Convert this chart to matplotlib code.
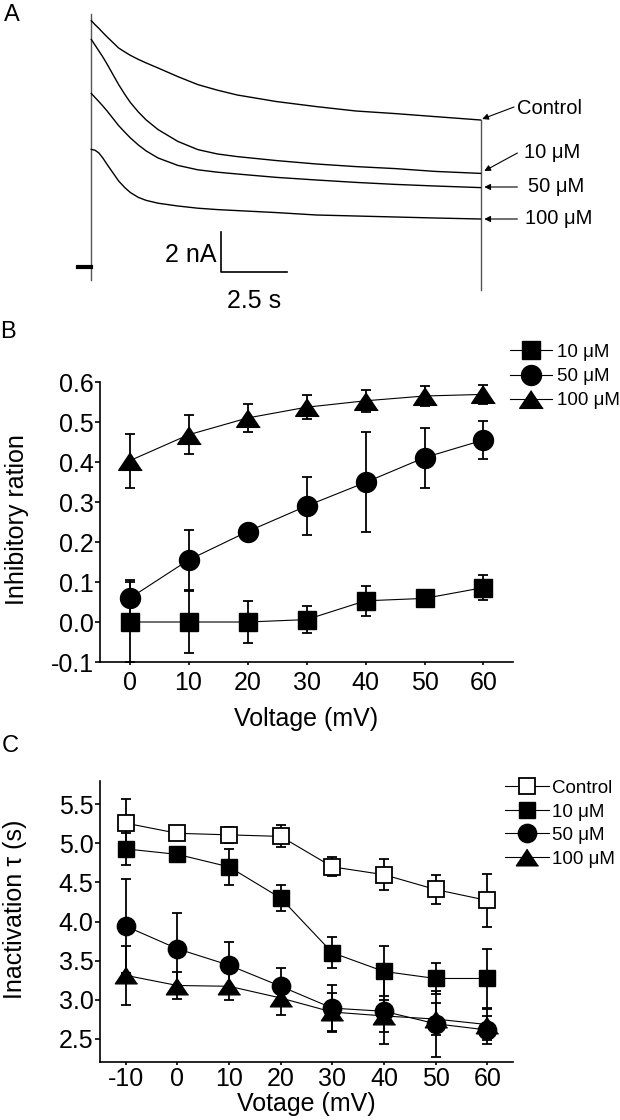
import numpy as np
import matplotlib
matplotlib.use('Agg')
import matplotlib.pyplot as plt

plt.rcParams['font.family'] = ['Liberation Sans', 'DejaVu Sans']
plt.rcParams['axes.unicode_minus'] = False

# ---- panel A: current traces (time in s, current in nA)
t_trace = [0, 0.14, 0.29, 0.44, 0.59, 1.04, 1.29, 1.49, 1.79, 2.09, 2.54,
           3.29, 4.05, 4.8, 5.55, 7.05, 8.56, 10.06, 11.56, 13.07, 14.8]
i_ctrl = [12.32, 12.12, 11.93, 11.72, 11.52, 10.95, 10.74, 10.58, 10.38,
          10.2, 9.95, 9.52, 9.12, 8.84, 8.6, 8.27, 8.02, 7.8, 7.67, 7.52, 7.35]
i_10 = [11.38, 11.1, 10.8, 10.5, 10.17, 9.12, 8.6, 8.22, 7.75, 7.35, 6.87,
        6.28, 5.87, 5.65, 5.52, 5.32, 5.15, 5.02, 4.92, 4.78, 4.68]
i_50 = [8.68, 8.48, 8.27, 8.05, 7.82, 7.07, 6.72, 6.45, 6.1, 5.8, 5.45,
        5.08, 4.86, 4.74, 4.65, 4.48, 4.35, 4.23, 4.13, 4.05, 3.97]
i_100 = [5.88, 5.84, 5.7, 5.45, 5.15, 4.3, 3.95, 3.72, 3.48, 3.33, 3.19,
         3.05, 2.94, 2.87, 2.82, 2.72, 2.6, 2.55, 2.5, 2.45, 2.4]
trace_names = ['Control', '10 μM', '50 μM', '100 μM']
step_on_t, step_on_i = [0, 0], [12.63, -0.65]
step_off_t, step_off_i = [14.8, 14.8], [7.35, -1.15]
hold_t, hold_i = [-0.51, 0], [0, 0]

# ---- panel B: inhibitory ratio vs voltage
volt_b = [0, 10, 20, 30, 40, 50, 60]
b_10 = [0.0, 0.0, 0.0, 0.006, 0.053, 0.059, 0.086]
b_10_err = [0.1, 0.078, 0.053, 0.033, 0.037, 0.015, 0.032]
b_50 = [0.059, 0.155, 0.226, 0.29, 0.349, 0.411, 0.455]
b_50_err = [0.046, 0.075, 0.01, 0.072, 0.125, 0.075, 0.048]
b_100 = [0.403, 0.468, 0.51, 0.537, 0.553, 0.565, 0.569]
b_100_err = [0.068, 0.049, 0.035, 0.03, 0.028, 0.025, 0.024]

# ---- panel C: inactivation tau vs voltage
volt_c = [-10, 0, 10, 20, 30, 40, 50, 60]
c_ctrl = [5.26, 5.13, 5.11, 5.09, 4.70, 4.60, 4.41, 4.27]
c_ctrl_err = [0.31, 0.07, 0.1, 0.14, 0.12, 0.2, 0.19, 0.34]
c_10 = [4.93, 4.86, 4.70, 4.30, 3.60, 3.36, 3.27, 3.27]
c_10_err = [0.2, 0.05, 0.23, 0.17, 0.2, 0.32, 0.2, 0.38]
c_50 = [3.94, 3.65, 3.44, 3.17, 2.89, 2.85, 2.69, 2.61]
c_50_err = [0.6, 0.46, 0.3, 0.23, 0.3, 0.42, 0.42, 0.18]
c_100 = [3.31, 3.18, 3.17, 3.02, 2.84, 2.79, 2.75, 2.68]
c_100_err = [0.38, 0.17, 0.17, 0.22, 0.24, 0.2, 0.2, 0.2]

W, H = 620, 1120
fig = plt.figure(figsize=(W / 100, H / 100), dpi=100)

# flat triangle like the GraphPad one
tri = [(0, 0.75), (-1, -0.75), (1, -0.75)]

# ---------------- A ----------------
axA = fig.add_axes([0, 1 - 320 / H, 1, 320 / H])
axA.set_xlim(-3.47, 20.1)
axA.set_ylim(-2.65, 13.35)
axA.axis('off')
axA.plot(step_on_t, step_on_i, color='#555555', lw=1.0)
axA.plot(step_off_t, step_off_i, color='#555555', lw=1.0)
axA.plot(hold_t, hold_i, color='black', lw=3)
for cur in [i_ctrl, i_10, i_50, i_100]:
    axA.plot(t_trace, cur, color='black', lw=1.0)
# trace labels with arrows
lab_pos = [(16.2, 7.95), (16.45, 5.75), (16.6, 4.05), (16.5, 2.45)]
arr_tail = [(16.07, 8.0), (16.2, 5.7), (16.2, 4.0), (16.2, 2.4)]
arr_head = [(14.86, 7.4), (14.94, 4.8), (14.94, 4.0), (14.94, 2.4)]
for name, lp, tl, hd in zip(trace_names, lab_pos, arr_tail, arr_head):
    axA.annotate('', xy=hd, xytext=tl,
                 arrowprops=dict(arrowstyle='-|>', lw=0.8, color='black',
                                 mutation_scale=9, shrinkA=0, shrinkB=0))
    axA.text(lp[0], lp[1], name, fontsize=14.5, va='center', ha='left')
# scale bar
axA.plot([4.95, 4.95, 7.45], [1.75, -0.25, -0.25], color='black', lw=1.2)
axA.text(4.75, 0.6, '2 nA', fontsize=18, ha='right', va='center')
axA.text(6.2, -1.1, '2.5 s', fontsize=18, ha='center', va='top')


def style_axes(ax, xpad):
    for s in ['top', 'right']:
        ax.spines[s].set_visible(False)
    for s in ['left', 'bottom']:
        ax.spines[s].set_linewidth(1.2)
    ax.tick_params(axis='y', direction='out', length=3.6, width=1.2,
                   labelsize=18, pad=1)
    ax.tick_params(axis='x', direction='out', length=2.2, width=1.2,
                   labelsize=18, pad=xpad)


ekw = dict(fmt='none', ecolor='black', elinewidth=1.3, capsize=3.6,
           capthick=1.3, zorder=2)

# ---------------- B ----------------
axB = fig.add_axes([100 / W, 1 - 662 / H, 413 / W, 280 / H])
axB.errorbar(volt_b, b_10, yerr=b_10_err, **ekw)
axB.errorbar(volt_b, b_50, yerr=b_50_err, **ekw)
axB.errorbar(volt_b, b_100, yerr=b_100_err, **ekw)
axB.plot(volt_b, b_10, color='black', lw=0.8, marker='s', ms=13,
         mfc='black', mec='black', label='10 μM', zorder=3)
axB.plot(volt_b, b_50, color='black', lw=0.8, marker='o', ms=14.4,
         mfc='black', mec='black', label='50 μM', zorder=3)
axB.plot(volt_b, b_100, color='black', lw=0.8, marker=tri, ms=17,
         mfc='black', mec='black', label='100 μM', zorder=3)
axB.set_xlim(-5, 65)
axB.set_ylim(-0.1, 0.6)
axB.set_xticks(volt_b)
axB.set_yticks(np.arange(-0.1, 0.61, 0.1))
axB.set_yticklabels(['-0.1', '0.0', '0.1', '0.2', '0.3', '0.4', '0.5', '0.6'])
style_axes(axB, 4)
axB.set_ylabel('Inhibitory ration', fontsize=18)
axB.yaxis.set_label_coords(-0.172, 0.507)
axB.set_xlabel('Voltage (mV)', fontsize=18, va='top')
axB.xaxis.set_label_coords(0.5, -0.16)
axB.legend(loc='upper left', bbox_to_anchor=(0.993, 1.136), frameon=False,
           fontsize=13.5, handlelength=2.24, handletextpad=0.27,
           labelspacing=0.37, borderpad=0, borderaxespad=0)

# ---------------- C ----------------
axC = fig.add_axes([100 / W, 1 - 1062 / H, 413 / W, 281 / H])
axC.errorbar(volt_c, c_ctrl, yerr=c_ctrl_err, **ekw)
axC.errorbar(volt_c, c_10, yerr=c_10_err, **ekw)
axC.errorbar(volt_c, c_50, yerr=c_50_err, **ekw)
axC.errorbar(volt_c, c_100, yerr=c_100_err, **ekw)
axC.plot(volt_c, c_ctrl, color='black', lw=0.8, marker='s', ms=11.5,
         mfc='white', mec='black', mew=1.3, label='Control', zorder=3)
axC.plot(volt_c, c_10, color='black', lw=0.8, marker='s', ms=11.5,
         mfc='black', mec='black', label='10 μM', zorder=3)
axC.plot(volt_c, c_50, color='black', lw=0.8, marker='o', ms=13.2,
         mfc='black', mec='black', label='50 μM', zorder=3)
axC.plot(volt_c, c_100, color='black', lw=0.8, marker=tri, ms=16,
         mfc='black', mec='black', label='100 μM', zorder=3)
axC.set_xlim(-15, 65)
axC.set_ylim(2.2, 5.8)
axC.set_xticks(volt_c)
axC.set_xticklabels(['-10', '0', '10', '20', '30', '40', '50', '60'])
axC.set_yticks([2.5, 3.0, 3.5, 4.0, 4.5, 5.0, 5.5])
axC.set_yticklabels(['2.5', '3.0', '3.5', '4.0', '4.5', '5.0', '5.5'])
style_axes(axC, 1.5)
axC.set_ylabel('Inactivation τ (s)', fontsize=18)
axC.yaxis.set_label_coords(-0.177, 0.544)
axC.set_xlabel('Votage (mV)', fontsize=18, va='top')
axC.xaxis.set_label_coords(0.5, -0.105)
axC.legend(loc='upper left', bbox_to_anchor=(0.981, 1.004), frameon=False,
           fontsize=13.5, handlelength=2.35, handletextpad=0.16,
           labelspacing=0.34, borderpad=0, borderaxespad=0)

# panel letters
fig.text(4 / W, 1 - 4 / H, 'A', fontsize=17, va='top', ha='left')
fig.text(0 / W, 1 - 321 / H, 'B', fontsize=17, va='top', ha='left')
fig.text(2 / W, 1 - 735 / H, 'C', fontsize=17, va='top', ha='left')

fig.savefig('out.png', dpi=100)
